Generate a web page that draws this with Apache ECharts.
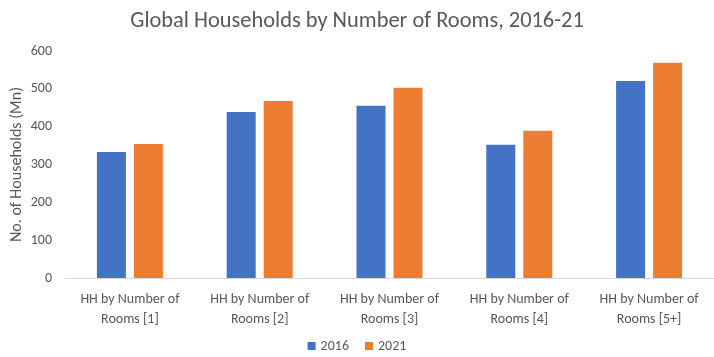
<!DOCTYPE html>
<html><head><meta charset="utf-8">
<script src="https://cdn.jsdelivr.net/npm/echarts@6/dist/echarts.min.js"></script>
<style>html,body{margin:0;padding:0;background:#fff}#c{width:714px;height:357px}</style>
</head><body><div id="c"></div>
<script>
const categories = ["HH by Number of\nRooms [1]", "HH by Number of\nRooms [2]", "HH by Number of\nRooms [3]", "HH by Number of\nRooms [4]", "HH by Number of\nRooms [5+]"];
const s2016 = [333, 439, 455, 352, 521];
const s2021 = [354, 468, 503, 389, 569];
const yTicks = [0, 100, 200, 300, 400, 500, 600];
const FONT = 'Carlito, Calibri, "Liberation Sans Narrow", "Open Sans", sans-serif';
const chart = echarts.init(document.getElementById('c'));
chart.setOption({
  animation: false,
  textStyle: {fontFamily: FONT},
  title: {text: 'Global Households by Number of Rooms, 2016-21', left: 'center', top: 5,
    textStyle: {fontFamily: FONT, fontSize: 22.4, fontWeight: 'normal', color: '#595959'}},
  legend: {bottom: -1, left: 'center', itemWidth: 8, itemHeight: 8, itemGap: 16, icon: 'rect',
    textStyle: {fontFamily: FONT, fontSize: 14, color: '#595959'}, data: ['2016', '2021']},
  grid: {left: 65, right: 0, top: 51, bottom: 79, containLabel: false, outerBoundsMode: 'none'},
  xAxis: {type: 'category', data: categories,
    axisLine: {lineStyle: {color: '#d9d9d9'}}, axisTick: {show: false},
    axisLabel: {fontFamily: FONT, fontSize: 14, color: '#595959', lineHeight: 20, margin: 11, interval: 0}},
  yAxis: {type: 'value', min: yTicks[0], max: yTicks[yTicks.length - 1], interval: 100,
    name: 'No. of Households (Mn)', nameLocation: 'middle', nameGap: 40, nameRotate: 90, nameMoveOverlap: false,
    nameTextStyle: {fontFamily: FONT, fontSize: 16, color: '#595959'},
    axisLine: {show: false}, axisTick: {show: false}, splitLine: {show: false},
    axisLabel: {fontFamily: FONT, fontSize: 14, color: '#595959', margin: 13}},
  series: [
    {name: '2016', type: 'bar', data: s2016, itemStyle: {color: '#4472c4'}, barWidth: 29, barGap: '27.6%'},
    {name: '2021', type: 'bar', data: s2021, itemStyle: {color: '#ed7d31'}, barWidth: 29, barGap: '27.6%'}
  ]
});
</script></body></html>
